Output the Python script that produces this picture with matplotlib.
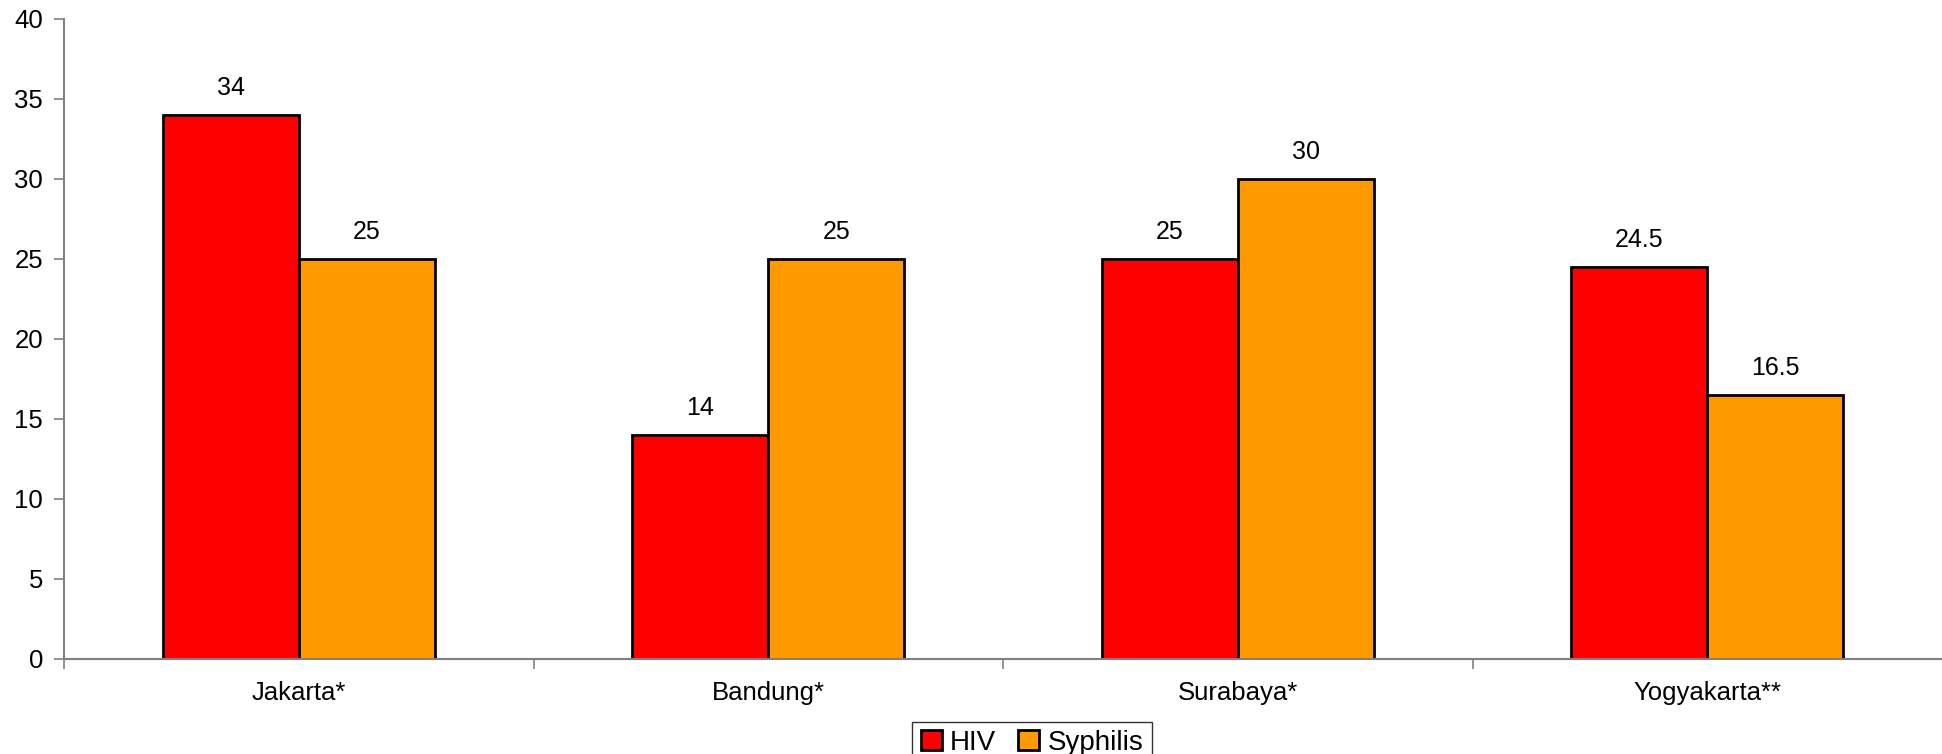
import matplotlib
matplotlib.use("Agg")
import matplotlib.pyplot as plt
import numpy as np

cities = ["Jakarta*", "Bandung*", "Surabaya*", "Yogyakarta**"]
hiv = [34, 14, 25, 24.5]
syphilis = [25, 25, 30, 16.5]
labels_hiv = ["34", "14", "25", "24.5"]
labels_syph = ["25", "25", "30", "16.5"]

plt.rcParams['font.family'] = ['Liberation Sans', 'DejaVu Sans']

fig = plt.figure(figsize=(19.42, 7.54), dpi=100)
ax = fig.add_axes([64/1942, 1-659/754, 1-64/1942, 640/754])

x = np.arange(len(cities))
w = 0.29
b1 = ax.bar(x - w/2, hiv, w, color='#ff0000', edgecolor='black', linewidth=2, label='HIV')
b2 = ax.bar(x + w/2, syphilis, w, color='#ff9900', edgecolor='black', linewidth=2, label='Syphilis')
ax.bar_label(b1, labels=labels_hiv, padding=11, fontsize=18)
ax.bar_label(b2, labels=labels_syph, padding=11, fontsize=18)

ax.set_xlim(-0.5, len(cities) - 0.5)
ax.set_ylim(0, 40)
ax.set_yticks(range(0, 41, 5))
ax.set_xticks(x)
ax.set_xticklabels(cities)
ax.set_xticks(np.arange(-0.5, len(cities) - 1, 1), minor=True)
ax.tick_params(axis='x', which='major', length=0, pad=16, labelsize=18.5)
ax.tick_params(axis='x', which='minor', length=7, color='#808080', direction='out', width=1.2)
ax.tick_params(axis='y', length=7, color='#808080', width=1.2, labelsize=18.5, pad=8)
for s in ['top', 'right']:
    ax.spines[s].set_visible(False)
for s in ['left', 'bottom']:
    ax.spines[s].set_color('#808080')
    ax.spines[s].set_linewidth(1.5)

leg = fig.legend(loc='lower center', bbox_to_anchor=(1032/1942, -0.032), ncol=2, fontsize=20,
                 frameon=True, fancybox=False, edgecolor='black', handlelength=0.75,
                 handleheight=0.75, handletextpad=0.3, columnspacing=0.8, borderpad=0.3)
leg.get_frame().set_linewidth(1.0)
for h in leg.legend_handles:
    h.set_linewidth(2)

fig.savefig("out.png", dpi=100)
